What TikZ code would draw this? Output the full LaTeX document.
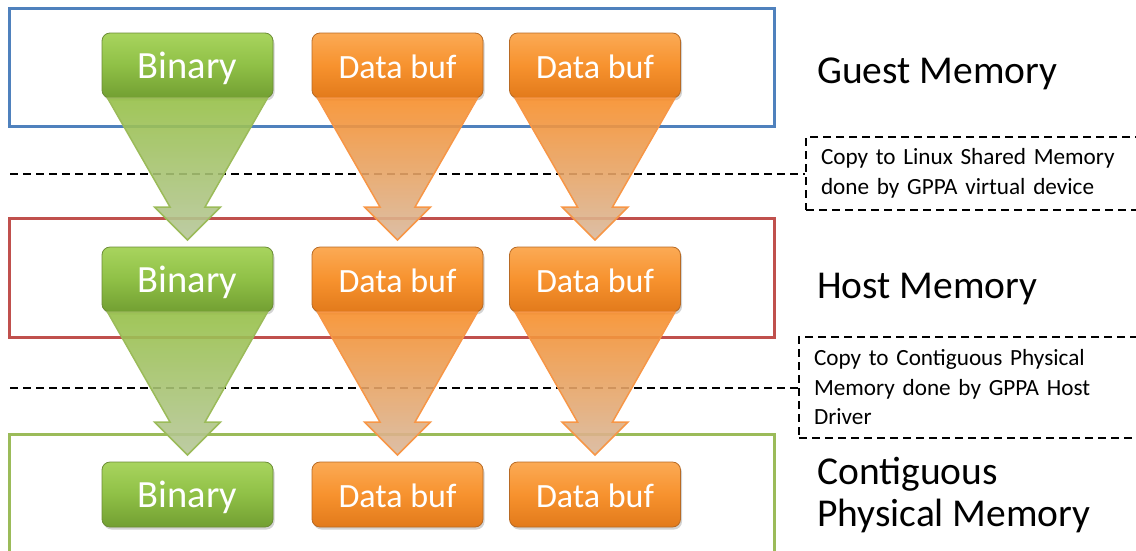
\documentclass[tikz,border=0pt]{standalone}
\usepackage{fontspec}
\setmainfont{Carlito}
\usetikzlibrary{calc,shadows}

\definecolor{guestblue}{HTML}{4F81BD}
\definecolor{hostred}{HTML}{C0504D}
\definecolor{physgreen}{HTML}{9BBB59}
\definecolor{bintop}{HTML}{A8D45E}
\definecolor{binmid}{HTML}{8FC046}
\definecolor{binbot}{HTML}{729F32}
\definecolor{bindark}{HTML}{6B8C35}
\definecolor{buftop}{HTML}{FBAA55}
\definecolor{bufmid}{HTML}{F7922E}
\definecolor{bufbot}{HTML}{E27A1B}
\definecolor{bufdark}{HTML}{B86A24}
\definecolor{arrgreentop}{HTML}{96C047}
\definecolor{arrgreenbot}{HTML}{B7C69A}
\definecolor{arrorangetop}{HTML}{F78E2A}
\definecolor{arrorangebot}{HTML}{D8B89C}
\definecolor{arrorangeline}{HTML}{F79646}

% block arrow from the bottom of one box to just above the next one
\newcommand{\blockarrow}[3]{%
  \path[#3]
    ($(#1.south)+(-80,0)$) -- ($(#1.south)+(80,0)$)
    -- ($(#2.north)+(17.5,-40)$) -- ($(#2.north)+(33,-40)$)
    -- ($(#2.north)+(0,-7)$)
    -- ($(#2.north)+(-33,-40)$) -- ($(#2.north)+(-17.5,-40)$)
    -- cycle;}

\begin{document}
\begin{tikzpicture}[x=1pt,y=-1pt,
  region/.style={line width=3pt, inner sep=0pt, outer sep=0pt},
  membox/.style={minimum width=171pt, minimum height=65pt, rounded corners=8pt,
    text=white, inner sep=0pt, outer sep=0pt, text height=29pt, text depth=4pt,
    line width=0.8pt,
    drop shadow={shadow xshift=1.5pt, shadow yshift=-2.5pt, opacity=0.35}},
  binbox/.style={membox, font=\fontsize{38.5}{44}\selectfont,
    draw=bindark, top color=bintop, bottom color=binbot, middle color=binmid},
  bufbox/.style={membox, font=\fontsize{34}{40}\selectfont,
    draw=bufdark, top color=buftop, bottom color=bufbot, middle color=bufmid},
  greenarrow/.style={draw=physgreen, line width=1.5pt, line join=miter,
    top color=arrgreentop, bottom color=arrgreenbot, fill opacity=0.9},
  orangearrow/.style={draw=arrorangeline, line width=1.5pt, line join=miter,
    top color=arrorangetop, bottom color=arrorangebot, fill opacity=0.9},
  dashline/.style={draw=black, line width=2pt, dash pattern=on 8pt off 5pt},
  note/.style={dashline, anchor=west, text width=310pt, inner xsep=15pt, inner ysep=0pt,
    align=left, font=\fontsize{23.2}{29.5}\selectfont},
  biglabel/.style={anchor=base west, inner sep=0pt, align=left,
    font=\fontsize{39.5}{42}\selectfont}
]
\useasboundingbox (0,0) rectangle (1136,550);
\clip (0,0) rectangle (1136,550);

% memory regions
\node[region, draw=guestblue, minimum width=765pt, minimum height=118pt] (guest) at (391.5,67) {};
\node[region, draw=hostred, minimum width=765pt, minimum height=119pt] (host) at (391.5,277.5) {};
\node[region, draw=physgreen, minimum width=765pt, minimum height=140pt] (phys) at (391.5,504) {};

% copy steps
\node[note, minimum height=73pt] (note1) at (805,173.5)
  {Copy to Linux Shared Memory\\done by GPPA virtual device};
\coordinate (l1) at (10,173.5);
\draw[dashline] (l1) -- (note1.west);

\node[note, minimum height=101pt] (note2) at (798,387.5)
  {Copy to Contiguous Physical\\Memory done by GPPA Host\\Driver};
\coordinate (l2) at (10,387.5);
\draw[dashline] (l2) -- (note2.west);

% buffers
\node[binbox] (bin1) at (187.5,65.5) {Binary};
\node[bufbox] (bufa1) at (397.5,65.5) {Data buf};
\node[bufbox] (bufb1) at (595,65.5) {Data buf};

\node[binbox] (bin2) at (187.5,279.5) {Binary};
\node[bufbox] (bufa2) at (397.5,279.5) {Data buf};
\node[bufbox] (bufb2) at (595,279.5) {Data buf};

\node[binbox] (bin3) at (187.5,494.5) {Binary};
\node[bufbox] (bufa3) at (397.5,494.5) {Data buf};
\node[bufbox] (bufb3) at (595,494.5) {Data buf};

% transfers
\blockarrow{bin1}{bin2}{greenarrow}
\blockarrow{bufa1}{bufa2}{orangearrow}
\blockarrow{bufb1}{bufb2}{orangearrow}
\blockarrow{bin2}{bin3}{greenarrow}
\blockarrow{bufa2}{bufa3}{orangearrow}
\blockarrow{bufb2}{bufb3}{orangearrow}

% region names
\node[biglabel] (gname) at (817,83) {Guest Memory};
\node[biglabel] (hname) at (817,298) {Host Memory};
\node[biglabel] (pname) at (817,526) {Contiguous\\Physical Memory};
\end{tikzpicture}
\end{document}
